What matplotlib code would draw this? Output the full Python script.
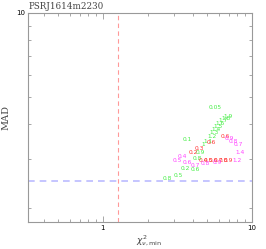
import matplotlib
matplotlib.use("Agg")
import matplotlib.pyplot as plt
from matplotlib.ticker import LogLocator, NullFormatter, FixedLocator, FixedFormatter

title = "PSRJ1614m2230"
xlim = (0.314, 10.0)
ylim = (1.78, 10.0)
chi2_cut = 1.26
mad_cut = 2.5

green_lbl = ["0.05", "0.1", "0.2", "0.6", "0.8", "0.5", "0.9", "0.8",
             "1", "1.1", "1.2", "1.3", "1.4", "1.5", "1.6", "1.7", "1.8", "1.9"]
green_x = [5.65, 3.66, 3.55, 4.14, 2.69, 3.19, 4.48, 4.27,
           4.69, 5.07, 5.39, 5.56, 5.73, 5.91, 6.10, 6.38, 6.69, 6.90]
green_y = [4.60, 3.51, 2.78, 2.74, 2.56, 2.61, 3.15, 3.02,
           3.37, 3.45, 3.60, 3.72, 3.81, 3.91, 4.00, 4.10, 4.20, 4.24]

red_lbl = ["0.6", "0.3", "0.2", "0.6", "0.4", "0.5", "0.6", "0.7", "0.8", "0.9"]
red_x = [5.31, 4.41, 4.02, 6.59, 4.69, 5.07, 5.47, 5.91, 6.38, 6.90]
red_y = [3.42, 3.26, 3.15, 3.62, 2.97, 2.97, 2.97, 2.97, 2.97, 2.97]

mag_lbl = ["0.4", "0.5", "0.6", "0.7", "0.8", "0.9", "1.2", "1.4", "0.7", "0.8", "0.9"]
mag_x = [3.39, 3.14, 3.66, 4.14, 4.84, 5.82, 7.93, 8.30, 8.05, 7.45, 7.01]
mag_y = [3.07, 2.97, 2.90, 2.85, 2.88, 2.90, 2.97, 3.15, 3.37, 3.45, 3.54]

fig = plt.figure(figsize=(2.66, 2.49), dpi=100)
ax = fig.add_axes([0.105, 0.108, 0.842, 0.840])
ax.set_xscale("log")
ax.set_yscale("log")
ax.set_xlim(*xlim)
ax.set_ylim(*ylim)

ax.axvline(chi2_cut, color="#ff9999", ls=(0, (4, 3)), lw=0.8)
ax.axhline(mad_cut, color="#bbbbff", ls=(0, (4, 3)), lw=1.2)

fs = 4.2
for lbls, xs, ys, c in [(green_lbl, green_x, green_y, "#44ee44"),
                        (red_lbl, red_x, red_y, "#ff3333"),
                        (mag_lbl, mag_x, mag_y, "#ff44ff")]:
    for l, x, y in zip(lbls, xs, ys):
        ax.text(x, y, l, color=c, fontsize=fs, ha="center", va="center")

for s in ax.spines.values():
    s.set_color("#999999")
    s.set_linewidth(0.8)

ax.xaxis.set_major_locator(FixedLocator([1, 10]))
ax.xaxis.set_major_formatter(FixedFormatter(["1", "10"]))
ax.xaxis.set_minor_locator(LogLocator(base=10, subs=range(2, 10)))
ax.xaxis.set_minor_formatter(NullFormatter())
ax.yaxis.set_major_locator(FixedLocator([10]))
ax.yaxis.set_major_formatter(FixedFormatter(["10"]))
ax.yaxis.set_minor_locator(LogLocator(base=10, subs=range(2, 10)))
ax.yaxis.set_minor_formatter(NullFormatter())
ax.tick_params(which="both", direction="in", top=True, right=True, color="#999999",
               labelsize=5, pad=2)
ax.tick_params(which="major", length=4, width=0.6)
ax.tick_params(which="minor", length=2.5, width=0.6)

ax.set_xlabel(r"$\chi^2_{\nu,\mathrm{min}}$", fontsize=6.5, family="DejaVu Serif", labelpad=0, color="#444444")
ax.xaxis.set_label_coords(0.54, -0.055)
ax.set_ylabel("MAD", fontsize=7, family="DejaVu Serif", color="#444444")
fig.text(0.109, 0.955, title, fontsize=6.3, family="DejaVu Serif", color="#444444", va="bottom", ha="left")

fig.savefig("out.png", dpi=100)
